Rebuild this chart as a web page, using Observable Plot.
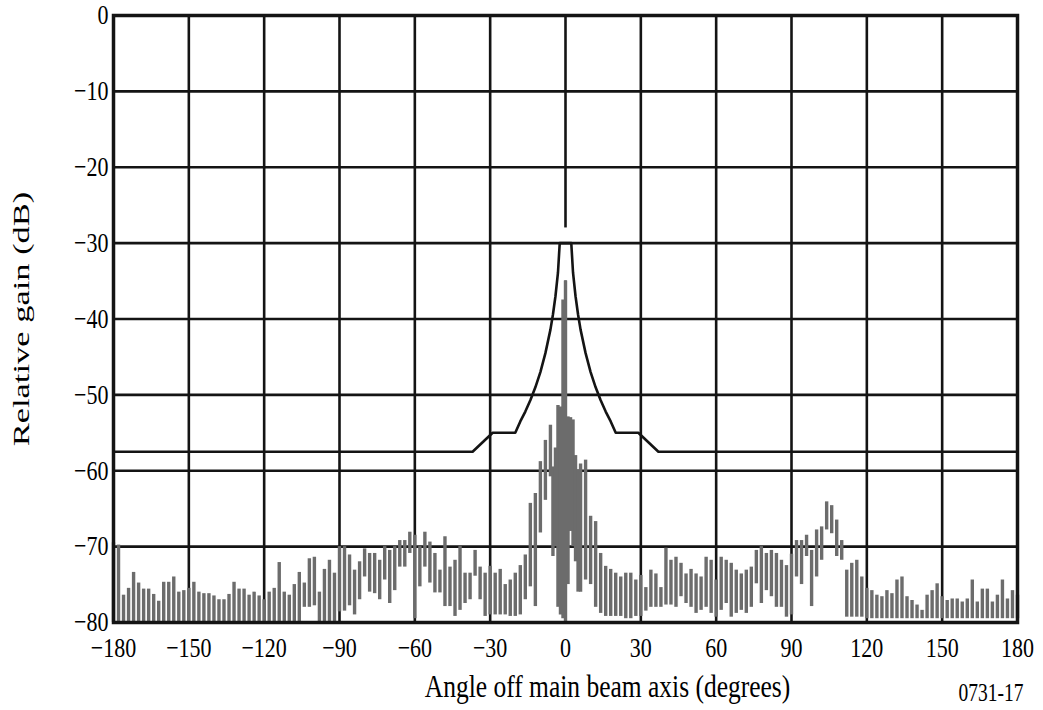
<!DOCTYPE html>
<html>
<head>
<meta charset="utf-8">
<script src="https://cdn.jsdelivr.net/npm/d3@7"></script>
<script src="https://cdn.jsdelivr.net/npm/@observablehq/plot@0.6"></script>
<style>
  html, body { margin: 0; padding: 0; background: #fff; }
  #chart { width: 1043px; height: 710px; }
  #chart svg, #chart svg text { font-family: "Liberation Serif", "Times New Roman", serif !important; }
</style>
</head>
<body>
<div id="chart"></div>
<script>
// ---- Data ----
const xTicks = [-180, -150, -120, -90, -60, -30, 0, 30, 60, 90, 120, 150, 180];
const yTicks = [0, -10, -20, -30, -40, -50, -60, -70, -80];
const yGridLines = [-10, -20, -30, -40, -50, -60, -70];

// Measured pattern: each sweep bar spans from low to high (dB)
const angles = [
  -180, -178, -176, -174, -172, -170, -168, -166, -164, -162, -160, -158, -156, -154, -152, -150,
  -148, -146, -144, -142, -140, -138, -136, -134, -132, -130, -128, -126, -124, -122, -120,
  -118, -116, -114, -112, -110, -108, -106, -104, -102, -100, -98, -96, -94, -92, -90,
  -88, -86, -84, -82, -80, -78, -76, -74, -72, -70, -68, -66, -64, -62, -60,
  -58, -56, -54, -52, -50, -48, -46, -44, -42, -40, -38, -36, -34, -32, -30,
  -28, -26, -24, -22, -20, -18, -16, -14, -12, -10, -8, -6, -5, -4, -3, -2, -1, 0,
  1, 2, 3, 4, 5, 6, 8, 10, 12, 14, 16, 18, 20, 22, 24, 26, 28, 30,
  32, 34, 36, 38, 40, 42, 44, 46, 48, 50, 52, 54, 56, 58, 60,
  62, 64, 66, 68, 70, 72, 74, 76, 78, 80, 82, 84, 86, 88, 90,
  92, 94, 96, 98, 100, 102, 104, 106, 108, 110, 112, 114, 116, 118, 120,
  122, 124, 126, 128, 130, 132, 134, 136, 138, 140, 142, 144, 146, 148, 150,
  152, 154, 156, 158, 160, 162, 164, 166, 168, 170, 172, 174, 176, 178, 180
];
const highs = [
  -69.5, -69.8, -76.4, -75.5, -73.4, -74.8, -75.6, -75.6, -76.3, -77.2, -74.7, -74.7, -74.0, -76.0, -75.8, -75.5,
  -74.7, -76.0, -76.2, -76.2, -76.5, -77.0, -77.0, -76.3, -74.7, -75.6, -75.6, -76.4, -76.0, -76.5, -77.0,
  -76.0, -75.5, -72.1, -76.0, -76.4, -75.0, -73.4, -74.8, -71.6, -71.4, -76.0, -73.0, -71.8, -73.5, -70.0,
  -70.0, -71.1, -73.1, -72.0, -70.3, -70.9, -70.9, -71.8, -70.0, -70.5, -70.0, -69.2, -69.2, -68.1, -68.5,
  -70.0, -68.1, -69.4, -70.9, -73.1, -68.7, -72.7, -71.8, -70.0, -73.5, -73.5, -70.5, -72.7, -73.5, -72.6,
  -73.5, -73.0, -75.0, -74.4, -73.5, -72.5, -71.1, -64.3, -63.0, -58.8, -56.0, -54.0, -59.5, -57.0, -51.4, -51.6, -37.5, -35.0,
  -52.9, -53.0, -53.3, -58.0, -59.9, -59.1, -58.6, -66.0, -66.7, -70.9, -72.6, -73.0, -73.5, -74.0, -73.5, -73.5, -74.4, -73.8,
  -75.4, -73.1, -73.6, -75.4, -70.2, -71.8, -71.4, -72.2, -73.6, -73.0, -73.6, -74.0, -71.4, -71.8, -74.4,
  -71.4, -71.8, -72.2, -73.1, -73.6, -73.1, -72.7, -70.5, -70.0, -70.9, -70.5, -70.9, -71.8, -72.5, -71.0,
  -69.2, -69.2, -68.5, -70.5, -67.8, -67.4, -64.1, -64.6, -66.5, -69.2, -73.1, -72.2, -71.8, -74.0, -75.5,
  -75.8, -76.4, -76.6, -75.8, -76.2, -74.4, -74.0, -76.6, -77.1, -77.7, -78.4, -76.4, -75.8, -74.9, -76.6,
  -77.1, -76.9, -76.9, -77.3, -76.9, -74.4, -77.3, -75.6, -75.6, -77.3, -76.4, -74.4, -76.9, -75.8, -76.4
];
const lows = [
  -80, -80, -80, -80, -80, -80, -80, -80, -80, -80, -80, -80, -80, -80, -80, -80,
  -80, -80, -80, -80, -80, -80, -80, -80, -80, -80, -80, -80, -80, -80, -80,
  -80, -80, -80, -80, -80, -80, -80, -78.0, -78.0, -77.8, -80, -80, -80, -80, -78.6,
  -78.5, -77.8, -79.0, -77.0, -74.0, -76.0, -76.2, -77.0, -74.4, -77.5, -75.8, -72.7, -72.7, -70.9, -79.5,
  -75.3, -72.7, -74.8, -76.1, -76.1, -77.9, -77.9, -79.2, -78.4, -77.5, -77.0, -73.9, -77.0, -79.2, -79.0,
  -79.0, -79.0, -79.0, -79.2, -79.2, -79.0, -77.0, -75.3, -77.9, -68.2, -63.9, -60.8, -71.3, -70.0, -78.0, -79.0, -79.5, -80,
  -75.0, -68.0, -70.0, -72.0, -76.0, -76.0, -74.4, -75.0, -78.0, -78.8, -79.2, -79.2, -79.2, -79.2, -79.5, -79.5, -79.2, -79.2,
  -78.5, -78.0, -78.0, -78.0, -77.7, -77.7, -78.0, -76.6, -77.5, -78.0, -78.8, -78.4, -78.0, -78.8, -79.3,
  -78.4, -77.5, -79.3, -78.8, -78.4, -78.8, -78.0, -74.9, -77.5, -75.8, -76.6, -78.0, -78.0, -79.3, -79.0,
  -74.0, -75.0, -71.3, -77.9, -74.0, -71.8, -67.8, -68.3, -71.3, -71.8, -79.3, -79.3, -79.3, -79.3, -79.5,
  -79.5, -79.5, -79.5, -79.5, -79.5, -79.5, -79.5, -79.5, -79.5, -79.5, -79.5, -79.5, -79.5, -79.5, -79.5,
  -79.5, -79.5, -79.5, -79.5, -79.5, -79.5, -79.5, -79.5, -79.5, -79.5, -79.5, -79.5, -79.5, -79.5, -79.5
];

// Reference envelope (dB)
const envAngles = [-180, -37, -29, -20, -18, -16, -14, -12, -10, -8, -6, -5, -4, -3, -2.3,
                   2.3, 3, 4, 5, 6, 8, 10, 12, 14, 16, 18, 20, 29, 37, 180];
const envGain = [-57.5, -57.5, -55, -55, -53.5, -52.2, -50.7, -49, -47, -44.5, -41.4, -39.4, -37, -33.9, -30,
                 -30, -33.9, -37, -39.4, -41.4, -44.5, -47, -49, -50.7, -52.2, -53.5, -55, -55, -57.5, -57.5];

// The 0° grid line is interrupted just above the main lobe
const zeroGridGapTop = -28;
const zeroGridGapBottom = -35;

const xLabel = "Angle off main beam axis (degrees)";
const yLabel = "Relative gain (dB)";
const caption = "0731-17";

// ---- Build tables ----
const measured = angles.map((a, i) => ({a, hi: highs[i], lo: lows[i]}));
const envelope = envAngles.map((a, i) => ({a, g: envGain[i]}));
const xGridFull = xTicks.filter(t => t !== 0 && Math.abs(t) !== 180);
const zeroGrid = [
  {x: 0, y1: 0, y2: zeroGridGapTop},
  {x: 0, y1: zeroGridGapBottom, y2: -80}
];

const ink = "#141414";
const chart = Plot.plot({
  width: 1043,
  height: 710,
  marginLeft: 113,
  marginRight: 26,
  marginTop: 15,
  marginBottom: 88,
  x: {domain: [-180, 180]},
  y: {domain: [-80, 0]},
  style: {fontFamily: "Liberation Serif", fontSize: "20px", background: "#fff", color: "#000"},
  marks: [
    Plot.ruleY(yGridLines, {stroke: ink, strokeWidth: 2.6}),
    Plot.ruleX(xGridFull, {stroke: ink, strokeWidth: 2.6}),
    Plot.ruleX(zeroGrid, {x: "x", y1: "y1", y2: "y2", stroke: ink, strokeWidth: 2.6}),
    Plot.ruleX(measured, {x: "a", y1: "lo", y2: "hi", stroke: "#6c6c6c", strokeWidth: 3.4}),
    Plot.line(envelope, {x: "a", y: "g", stroke: ink, strokeWidth: 2.6, strokeLinejoin: "round"}),
    Plot.frame({stroke: ink, strokeWidth: 3.5}),
    Plot.axisX({ticks: xTicks, tickSize: 0, tickPadding: 15, label: null, fontSize: 22}),
    Plot.axisY({ticks: yTicks, tickSize: 0, tickPadding: 5, label: null, fontSize: 22}),
    Plot.text([xLabel], {frameAnchor: "bottom", dx: 42, dy: 74, textAnchor: "middle", fontSize: 25.5, text: d => d}),
    Plot.text([yLabel], {frameAnchor: "left", dx: -92, rotate: -90, textAnchor: "middle", fontSize: 23, text: d => d}),
    Plot.text([caption], {frameAnchor: "bottom-right", dx: 6, dy: 78, textAnchor: "end", fontSize: 19.5, text: d => d})
  ]
});
document.getElementById("chart").append(chart);

// The reference lettering is tall and narrow: stretch each label about its anchor
function stretch(el, sx, sy) {
  const t = el.getAttribute("transform") || "";
  const ax = el.getAttribute("x") || "", ay = el.getAttribute("y") || "";
  const x = /^-?[\d.]+$/.test(ax) ? parseFloat(ax) : 0;
  const y = /^-?[\d.]+$/.test(ay) ? parseFloat(ay) : 0;
  el.setAttribute("transform", `${t} translate(${x},${y}) scale(${sx},${sy}) translate(${-x},${-y})`);
}
d3.select(chart).selectAll("text").each(function() {
  if (this.textContent === yLabel) stretch(this, 1.5, 1);
  else stretch(this, 1, 1.25);
});
</script>
</body>
</html>
